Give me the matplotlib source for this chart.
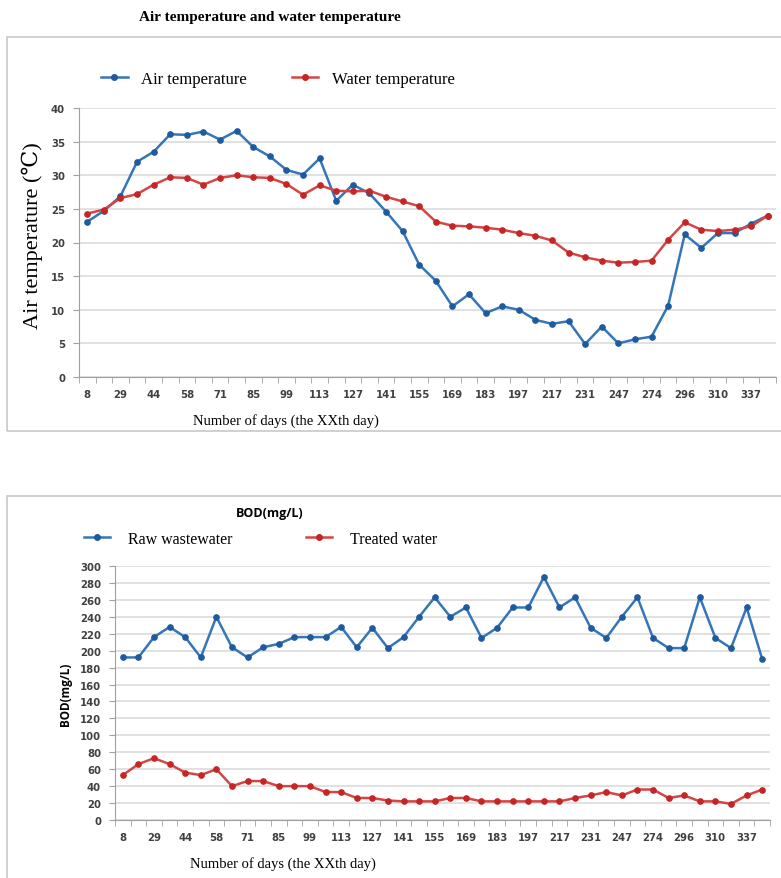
import matplotlib
matplotlib.use("Agg")
import matplotlib.pyplot as plt
from matplotlib.patches import Rectangle
from matplotlib.lines import Line2D

# labelled days on the category axis (every second point carries a label)
day_labels = ["8", "29", "44", "58", "71", "85", "99", "113", "127", "141", "155",
              "169", "183", "197", "217", "231", "247", "274", "296", "310", "337"]

air_temp = [23.1, 24.7, 26.9, 32.0, 33.5, 36.1, 36.0, 36.5, 35.3, 36.6, 34.2,
            32.8, 30.8, 30.1, 32.5, 26.2, 28.6, 27.3, 24.6, 21.7, 16.7, 14.3,
            10.5, 12.3, 9.5, 10.5, 10.0, 8.5, 7.9, 8.3, 4.9, 7.5, 5.0, 5.6,
            6.0, 10.6, 21.2, 19.2, 21.4, 21.4, 22.8, 24.0]
water_temp = [24.3, 24.9, 26.6, 27.2, 28.6, 29.7, 29.6, 28.6, 29.6, 30.0, 29.7,
              29.6, 28.7, 27.1, 28.5, 27.7, 27.6, 27.7, 26.8, 26.1, 25.4, 23.1,
              22.5, 22.4, 22.2, 21.9, 21.4, 21.0, 20.3, 18.5, 17.8, 17.3, 17.0,
              17.1, 17.3, 20.4, 23.0, 21.9, 21.7, 21.9, 22.4, 24.0]

bod_raw = [192, 192, 216, 228, 216, 192, 240, 204, 192, 204, 208, 216, 216, 216,
           228, 204, 227, 203, 216, 240, 263, 240, 251, 215, 227, 251, 251, 287,
           251, 263, 227, 215, 240, 263, 215, 203, 203, 263, 215, 203, 251, 190]
bod_treated = [53, 66, 73, 66, 56, 53, 60, 40, 46, 46, 40, 40, 40, 33, 33, 26,
               26, 23, 22, 22, 22, 26, 26, 22, 22, 22, 22, 22, 22, 26, 29, 33,
               29, 36, 36, 26, 29, 22, 22, 19, 29, 36]

BLUE = "#3576b8"
BLUE_M = "#1f5b9c"
RED = "#d64545"
RED_M = "#c42525"
GRID = "#d9d9d9"
TICK = "#404040"
SERIF = ["Liberation Serif", "DejaVu Serif"]
SANS = ["Open Sans", "DejaVu Sans"]

W, H = 781, 879
fig = plt.figure(figsize=(W / 100, H / 100), dpi=100)


def px_axes(left, top, right, bottom):
    return fig.add_axes([left / W, 1 - bottom / H, (right - left) / W, (bottom - top) / H])


def px_box(left, top, right, bottom):
    fig.patches.append(Rectangle((left / W, 1 - bottom / H), (right - left) / W,
                                 (bottom - top) / H, transform=fig.transFigure,
                                 fill=False, edgecolor="#c8c8c8", lw=1.2))


def style_axes(ax, ymax, ystep):
    n = len(air_temp)
    ax.set_xlim(-0.5, n - 0.5)
    ax.set_ylim(0, ymax)
    ax.set_yticks(range(0, ymax + 1, ystep))
    ax.set_xticks(list(range(n))[::2])
    ax.set_xticklabels(day_labels)
    ax.set_xticks([i - 0.5 for i in range(n + 1)], minor=True)
    ax.tick_params(axis="x", which="major", length=0, pad=9)
    ax.tick_params(axis="x", which="minor", length=4, color="#a0a0a0")
    ax.tick_params(axis="y", length=4, color="#a0a0a0", pad=6)
    for lab in ax.get_xticklabels() + ax.get_yticklabels():
        lab.set_family("DejaVu Sans")
        lab.set_fontweight("bold")
        lab.set_fontsize(7.3)
        lab.set_color(TICK)
    ax.grid(axis="y", color=GRID, lw=1.1)
    ax.set_axisbelow(True)
    for s in ["top", "right"]:
        ax.spines[s].set_visible(False)
    for s in ["left", "bottom"]:
        ax.spines[s].set_color("#a0a0a0")


def line_handles():
    return [Line2D([], [], color=BLUE, lw=1.8, marker="o", ms=4, mfc=BLUE_M, mec=BLUE_M),
            Line2D([], [], color=RED, lw=1.8, marker="o", ms=4, mfc=RED_M, mec=RED_M)]


idx = list(range(len(air_temp)))

# ---- top chart: air and water temperature
px_box(7, 38, 790, 432)
ax1 = px_axes(79, 109, 776, 378)
ax1.plot(idx, air_temp, color=BLUE, lw=1.8, marker="o", ms=3.8,
         mfc=BLUE_M, mec=BLUE_M)
ax1.plot(idx, water_temp, color=RED, lw=1.8, marker="o", ms=3.8,
         mfc=RED_M, mec=RED_M)
style_axes(ax1, 40, 5)
ax1.set_ylabel("Air temperature (℃)", family=SERIF, fontsize=16, va="center")
ax1.yaxis.set_label_coords((32 - 79) / 697, (378 - 236) / 269)
ax1.set_xlabel("Number of days (the XXth day)", family=SERIF, fontsize=10.5, va="center")
ax1.xaxis.set_label_coords((286 - 79) / 697, -(421 - 378) / 269)
fig.text(270 / W, 1 - 18 / H, "Air temperature and water temperature", family=SERIF,
         fontweight="bold", fontsize=11, ha="center", va="center")

fig.legend(line_handles(), ["Air temperature", "Water temperature"], ncol=2,
           loc="center left", bbox_to_anchor=(101 / W, 1 - 80 / H), frameon=False,
           prop={"family": SERIF, "size": 12}, handlelength=1.6,
           columnspacing=2.7, handletextpad=0.8, borderaxespad=0, borderpad=0)

# ---- bottom chart: BOD
px_box(7, 497, 790, 900)
ax2 = px_axes(115, 567, 770, 821)
ax2.plot(idx, bod_raw, color=BLUE, lw=1.8, marker="o", ms=3.8,
         mfc=BLUE_M, mec=BLUE_M)
ax2.plot(idx, bod_treated, color=RED, lw=1.8, marker="o", ms=3.8,
         mfc=RED_M, mec=RED_M)
style_axes(ax2, 300, 20)
ax2.set_ylabel("BOD(mg/L)", family=SANS, fontweight="bold", fontsize=8.5, va="center")
ax2.yaxis.set_label_coords((65 - 115) / 655, (821 - 694) / 254)
ax2.set_xlabel("Number of days (the XXth day)", family=SERIF, fontsize=10.5, va="center")
ax2.xaxis.set_label_coords((283 - 115) / 655, -(864 - 821) / 254)
fig.text(270 / W, 1 - 513 / H, "BOD(mg/L)", family=SANS, fontweight="bold",
         fontsize=9, ha="center", va="center")

fig.legend(line_handles(), ["Raw wastewater", "Treated water"], ncol=2,
           loc="center left", bbox_to_anchor=(84 / W, 1 - 540 / H), frameon=False,
           prop={"family": SERIF, "size": 11.5}, handlelength=1.65,
           columnspacing=4.6, handletextpad=1.1, borderaxespad=0, borderpad=0)

fig.savefig("out.png", dpi=100)
